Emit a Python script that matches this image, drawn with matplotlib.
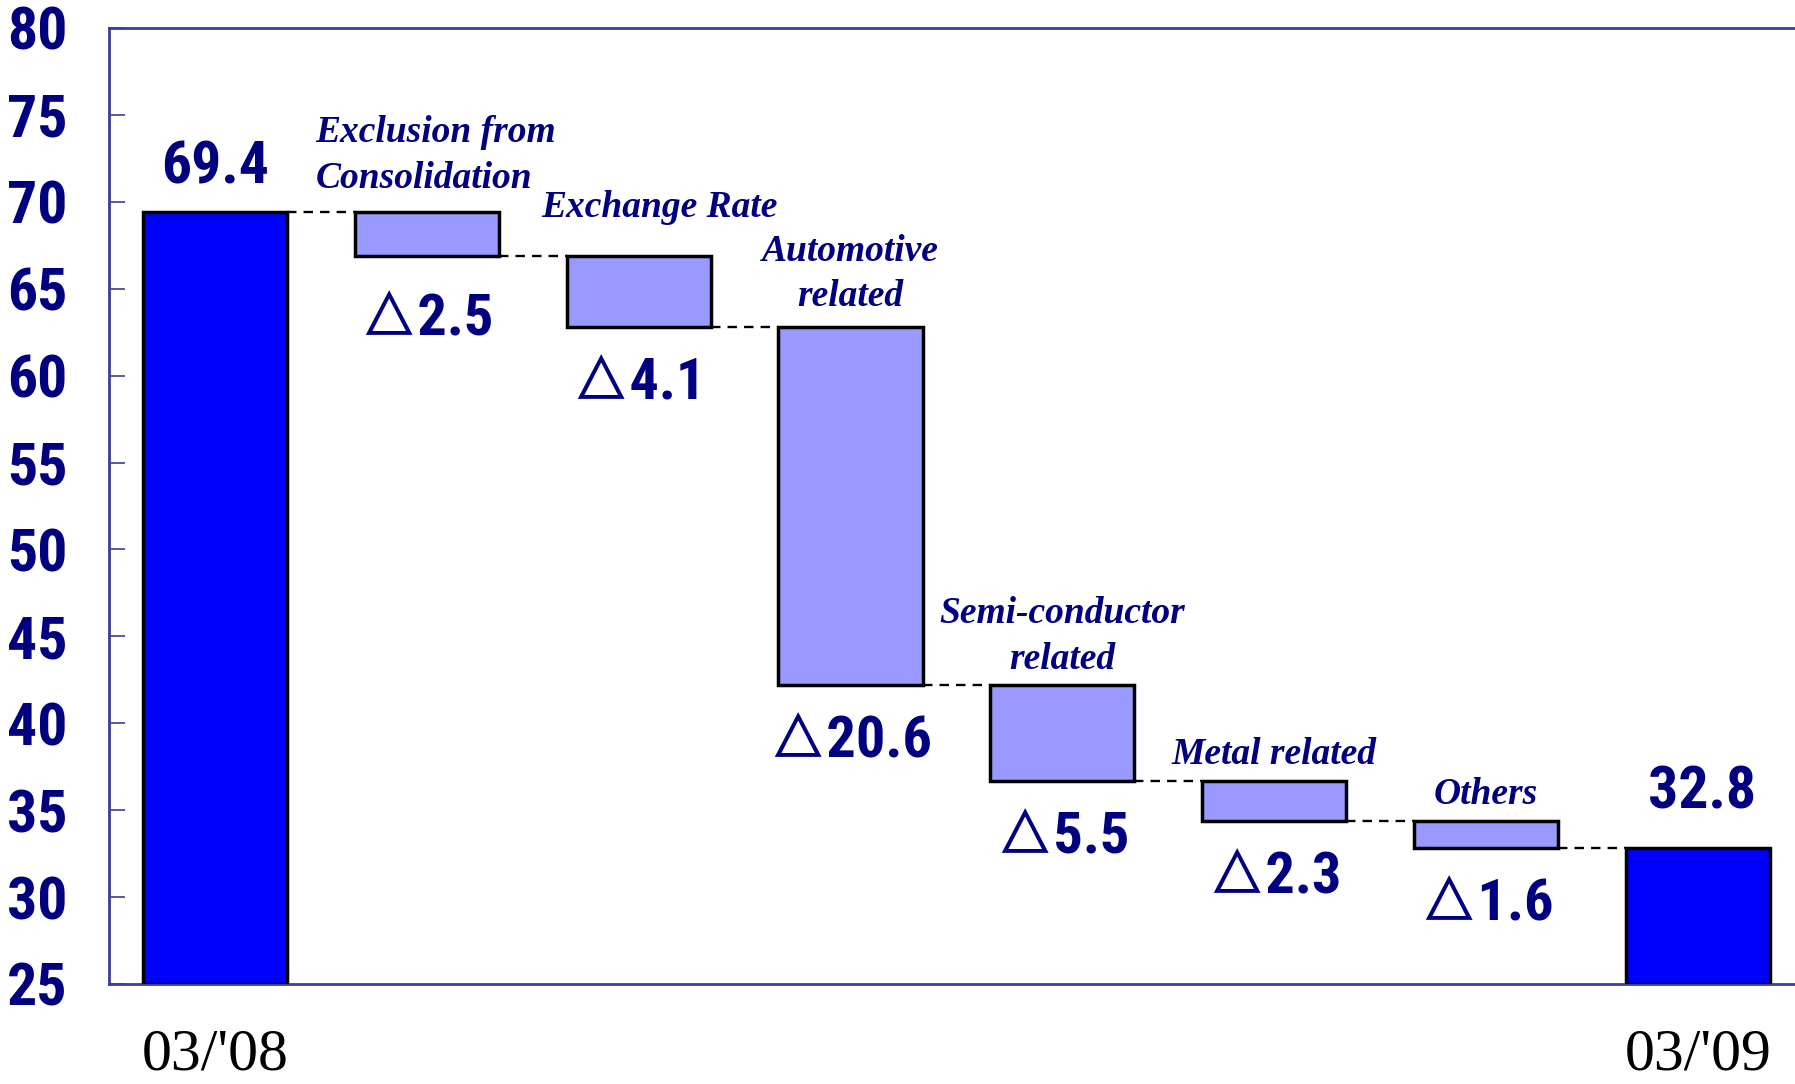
import matplotlib.pyplot as plt

# ordinary income bridge, 03/'08 -> 03/'09
period_labels = ["03/'08", "03/'09"]
start_value = 69.4
end_value = 32.8
change_labels = ["Exclusion from\nConsolidation", "Exchange Rate", "Automotive\nrelated",
                 "Semi-conductor\nrelated", "Metal related", "Others"]
changes = [-2.5, -4.1, -20.6, -5.5, -2.3, -1.6]
y_ticks = [25, 30, 35, 40, 45, 50, 55, 60, 65, 70, 75, 80]

NAVY = "#000080"
SPINE = "#3c3c9c"
num_font = ["Roboto Condensed", "IPAPGothic", "DejaVu Sans"]
cat_font = "Liberation Serif"

fig = plt.figure(figsize=(17.95, 10.84), dpi=100)
ax = fig.add_axes([109 / 1795, 100 / 1084, 1 - 109 / 1795, 956 / 1084])

ymin, ymax = y_ticks[0], y_ticks[-1]
n = len(changes) + 2
width = 0.68

# running levels between the two totals
levels = [start_value]
for c in changes:
    levels.append(round(levels[-1] + c, 1))

# totals
for x, v in [(0, start_value), (n - 1, end_value)]:
    ax.bar(x, v - ymin, bottom=ymin, width=width, color="#0000ff",
           edgecolor="black", linewidth=2.5, zorder=3)

# step bars
for i, c in enumerate(changes):
    x = i + 1
    ax.bar(x, c, bottom=levels[i], width=width, color="#9999ff",
           edgecolor="black", linewidth=2.5, zorder=3)

# dashed connectors
conn = [start_value] + levels[1:]
for i in range(n - 1):
    ax.plot([i + width / 2, i + 1 - width / 2], [conn[i], conn[i]],
            color="black", lw=1.7, ls=(0, (4, 3)), zorder=2)

# value labels on the totals
ax.annotate(f"{start_value:.1f}", (0, start_value), xytext=(0, 12),
            textcoords="offset points", ha="center", va="bottom",
            fontsize=43, fontweight="bold", color=NAVY, family=num_font)
ax.annotate(f"{end_value:.1f}", (n - 1, end_value), xytext=(3, 20),
            textcoords="offset points", ha="center", va="bottom",
            fontsize=43, fontweight="bold", color=NAVY, family=num_font)

# change labels below each step
for i, c in enumerate(changes):
    bottom = levels[i + 1]
    dy = -46 if i == 0 else -41
    ax.annotate(f"\u25b3{abs(c):.1f}", (i + 1, bottom), xytext=(0, dy),
                textcoords="offset points", ha="center", va="center",
                fontsize=42, fontweight="bold", color=NAVY, family=num_font)

# category names above each step
for i, name in enumerate(change_labels):
    x = i + 1
    top = levels[i]
    ha = "center"
    dx, dy = 0, 6
    if i == 0:
        ha, dx, dy = "left", -80, 12
    elif i == 1:
        dx, dy = 15, 22
    elif i == 2:
        dy = 9
    ax.annotate(name, (x, top), xytext=(dx, dy), textcoords="offset points",
                ha=ha, va="bottom", fontsize=27, fontweight="bold",
                fontstyle="italic", color=NAVY, family=cat_font,
                linespacing=1.4)

ax.set_xlim(-0.5, 7.458)
ax.set_ylim(ymin, ymax)
ax.set_yticks(y_ticks)
ax.set_yticklabels([str(t) for t in y_ticks], fontsize=43, fontweight="bold",
                   color=NAVY, family=num_font)
ax.tick_params(axis="y", direction="in", length=11.5, width=1.2,
               color=SPINE, pad=30)
ax.set_xticks([0, n - 1])
ax.set_xticklabels(period_labels, fontsize=43, family=cat_font, color="black")
ax.tick_params(axis="x", length=0, pad=32)

for side in ["left", "top", "bottom"]:
    ax.spines[side].set_color(SPINE)
    ax.spines[side].set_linewidth(2)
ax.spines["right"].set_visible(False)

fig.savefig("out.png", dpi=100)
